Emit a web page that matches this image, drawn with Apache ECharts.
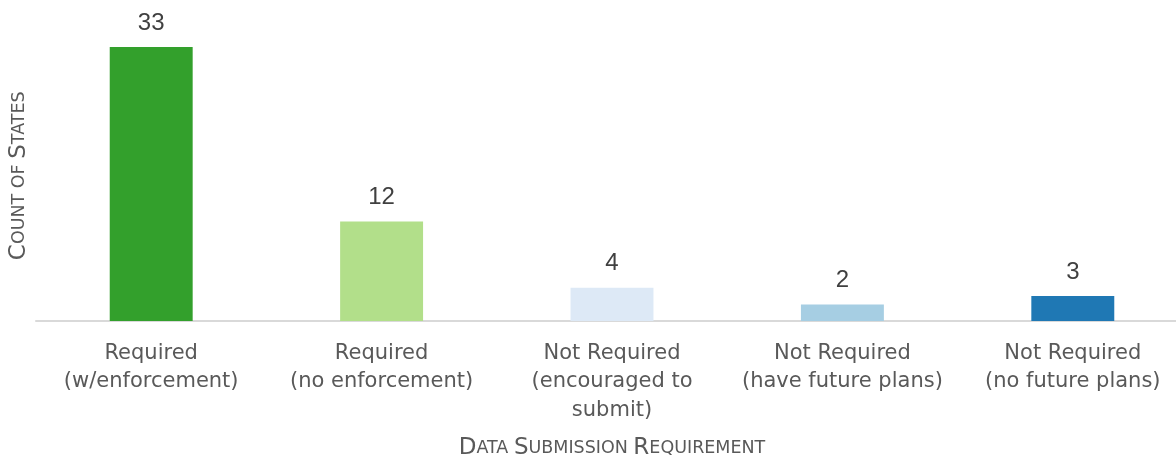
<!DOCTYPE html>
<html>
<head>
<meta charset="utf-8">
<script src="https://cdn.jsdelivr.net/npm/echarts@6/dist/echarts.min.js"></script>
<style>
  html, body { margin: 0; padding: 0; background: #ffffff; }
  #chart { width: 1176px; height: 460px; }
</style>
</head>
<body>
<div id="chart"></div>
<script>
// Categories of data submission requirement (line breaks as displayed)
const categories = [
  'Required\n(w/enforcement)',
  'Required\n(no enforcement)',
  'Not Required\n(encouraged to\nsubmit)',
  'Not Required\n(have future plans)',
  'Not Required\n(no future plans)'
];
// Number of states in each category
const stateCounts = [33, 12, 4, 2, 3];
// Bar fill per category
const barColors = ['#33a02c', '#b2df8a', '#dde9f6', '#a6cee3', '#1f78b4'];

const FONT = '"DejaVu Sans", "Open Sans", sans-serif';
const VALUE_FONT = '"Liberation Sans", Arial, sans-serif';

// Small-caps axis titles: capitals larger, remaining letters smaller
const titleRich = {
  c: { fontFamily: FONT, fontSize: 23, color: '#595959' },
  s: { fontFamily: FONT, fontSize: 17.5, color: '#595959' }
};

const chart = echarts.init(document.getElementById('chart'));
chart.setOption({
  animation: false,
  backgroundColor: '#ffffff',
  grid: {
    left: 36, right: -12, top: 30.5, bottom: 139,
    containLabel: false, outerBoundsMode: 'none'
  },
  xAxis: {
    type: 'category',
    data: categories,
    axisLine: { show: true, lineStyle: { color: '#d9d9d9', width: 2 } },
    axisTick: { show: false },
    axisLabel: {
      color: '#595959', fontFamily: FONT, fontSize: 21, lineHeight: 28.5,
      margin: 18, interval: 0
    },
    name: '{c|D}{s|ATA }{c|S}{s|UBMISSION }{c|R}{s|EQUIREMENT}',
    nameLocation: 'middle',
    nameGap: 116,
    nameTextStyle: { rich: titleRich }
  },
  yAxis: {
    type: 'value',
    min: 0,
    max: 35,
    axisLine: { show: false },
    axisTick: { show: false },
    axisLabel: { show: false },
    splitLine: { show: false },
    name: '{c|C}{s|OUNT OF }{c|S}{s|TATES}',
    nameLocation: 'middle',
    nameRotate: 90,
    nameGap: 5,
    nameTextStyle: { rich: titleRich }
  },
  series: [{
    type: 'bar',
    barWidth: '36%',
    data: stateCounts.map((v, i) => ({ value: v, itemStyle: { color: barColors[i] } })),
    label: {
      show: true,
      position: 'top',
      distance: 12,
      color: '#404040',
      fontFamily: VALUE_FONT,
      fontSize: 24
    }
  }]
});
</script>
</body>
</html>
